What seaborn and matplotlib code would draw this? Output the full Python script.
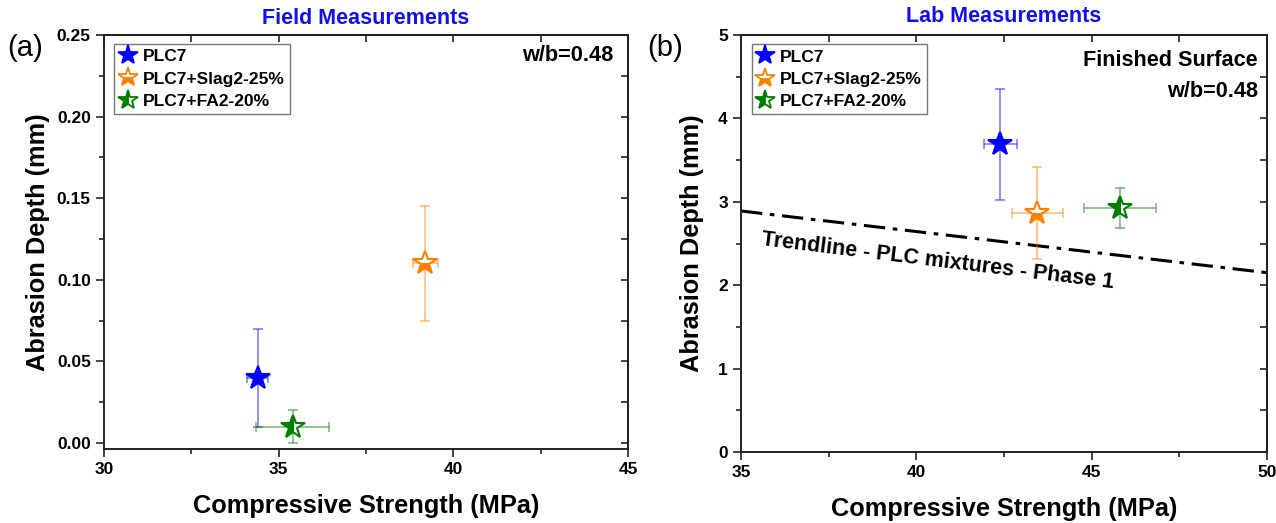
import numpy as np
import pandas as pd
import matplotlib
matplotlib.use("Agg")
import matplotlib.pyplot as plt
import seaborn as sns
from matplotlib.ticker import MultipleLocator, FormatStrFormatter
from matplotlib.lines import Line2D

# ---------------- data ----------------
series = ["PLC7", "PLC7+Slag2-25%", "PLC7+FA2-20%"]
colors = ["#0000FF", "#FF7F00", "#008000"]
fills = ["full", "bottom", "left"]

# Field measurements (panel a)
field_x = [34.4, 39.2, 35.4]
field_xerr = [0.3, 0.35, 1.05]
field_y = [0.040, 0.110, 0.010]
field_yerr = [0.030, 0.035, 0.010]

# Lab measurements (panel b)
lab_x = [42.4, 43.45, 45.8]
lab_xerr = [0.47, 0.73, 1.03]
lab_y = [3.69, 2.87, 2.93]
lab_yerr = [0.665, 0.55, 0.24]

trend_x = [35, 50]
trend_y = [2.89, 2.15]
trend_label = "Trendline - PLC mixtures - Phase 1"

# ---------------- style ----------------
sns.set_theme(style="ticks")
plt.rcParams["font.family"] = ["Liberation Sans", "DejaVu Sans"]
plt.rcParams["font.weight"] = "bold"
for k in ["text.color", "axes.labelcolor", "xtick.color", "ytick.color",
          "axes.edgecolor"]:
    plt.rcParams[k] = "black"

W, H = 1276, 523
fig = plt.figure(figsize=(W / 100, H / 100), dpi=100)

def px_axes(l, t, r, b):
    return fig.add_axes([l / W, 1 - b / H, (r - l) / W, (b - t) / H])

ax1 = px_axes(104, 35, 628, 449)
ax2 = px_axes(741, 35, 1267, 452)


def style_axes(ax, xmaj, xmin, ymaj, ymin, yfmt, ypad):
    for s in ax.spines.values():
        s.set_linewidth(1.4)
        s.set_color("#222222")
        s.set_visible(True)
    ax.xaxis.set_major_locator(MultipleLocator(xmaj))
    ax.xaxis.set_minor_locator(MultipleLocator(xmin))
    ax.yaxis.set_major_locator(MultipleLocator(ymaj))
    ax.yaxis.set_minor_locator(MultipleLocator(ymin))
    ax.yaxis.set_major_formatter(FormatStrFormatter(yfmt))
    ax.xaxis.set_major_formatter(FormatStrFormatter("%d"))
    ax.tick_params(which="both", direction="out", width=1.2, color="#222222",
                   labelsize=12.5, top=False, right=False, labelcolor="black")
    ax.tick_params(which="major", length=6)
    ax.tick_params(which="minor", length=3.5)
    for lab in ax.get_xticklabels() + ax.get_yticklabels():
        lab.set_fontweight("bold")
    # inward ticks on top/right
    sx = ax.secondary_xaxis("top")
    sx.xaxis.set_major_locator(MultipleLocator(xmaj))
    sx.xaxis.set_minor_locator(MultipleLocator(xmin))
    sx.tick_params(which="both", direction="in", labeltop=False, width=1.2,
                   color="#222222")
    sx.tick_params(which="major", length=5)
    sx.tick_params(which="minor", length=5)
    sy = ax.secondary_yaxis("right")
    sy.yaxis.set_major_locator(MultipleLocator(ymaj))
    sy.yaxis.set_minor_locator(MultipleLocator(ymin))
    sy.tick_params(which="both", direction="in", labelright=False, width=1.2,
                   color="#222222")
    sy.tick_params(which="major", length=5)
    sy.tick_params(which="minor", length=5)
    ax.set_xlabel("Compressive Strength (MPa)", fontsize=18.3,
                  fontweight="bold", labelpad=12)
    ax.set_ylabel("Abrasion Depth (mm)", fontsize=18.3, fontweight="bold",
                  labelpad=ypad)


def draw_points(ax, xs, xe, ys, ye):
    for i in range(len(series)):
        ax.errorbar(xs[i], ys[i], xerr=xe[i], yerr=ye[i], fmt="none",
                    ecolor=colors[i], alpha=0.5, elinewidth=1.2,
                    capsize=3.5, capthick=1.2, zorder=2)
        ax.plot(xs[i], ys[i], linestyle="none", marker="*", markersize=17.5,
                color=colors[i], markeredgecolor=colors[i],
                markerfacecolor=colors[i], fillstyle=fills[i],
                markerfacecoloralt="white", markeredgewidth=1.5, zorder=3)


def add_legend(ax):
    handles = [Line2D([], [], linestyle="none", marker="*", markersize=15,
                      color=colors[i], markeredgecolor=colors[i],
                      markerfacecolor=colors[i], fillstyle=fills[i],
                      markerfacecoloralt="white", markeredgewidth=1.3)
               for i in range(len(series))]
    leg = ax.legend(handles, series, loc="upper left",
                    bbox_to_anchor=(0.02, 0.978), frameon=True, fancybox=False,
                    framealpha=1, edgecolor="#777777", handlelength=1.0,
                    handletextpad=0.35, borderpad=0.3, labelspacing=0.4,
                    borderaxespad=0.0,
                    prop={"size": 12.5, "weight": "bold"})
    leg.get_frame().set_linewidth(1.0)


# ---------------- panel a ----------------
draw_points(ax1, field_x, field_xerr, field_y, field_yerr)
ax1.set_xlim(30, 45)
ax1.set_ylim(-0.0037, 0.25)
style_axes(ax1, 5, 2.5, 0.05, 0.025, "%.2f", 5)
add_legend(ax1)
ax1.text(0.972, 0.95, "w/b=0.48", transform=ax1.transAxes, ha="right",
         va="center", fontsize=15.7, fontweight="bold")

# ---------------- panel b ----------------
trend_df = pd.DataFrame({"x": trend_x, "y": trend_y})
sns.lineplot(data=trend_df, x="x", y="y", ax=ax2, color="black", linewidth=2.2,
             linestyle=(0, (7, 2.5, 1.5, 2.5)), zorder=1)
draw_points(ax2, lab_x, lab_xerr, lab_y, lab_yerr)
ax2.set_xlim(35, 50)
ax2.set_ylim(0, 5)
style_axes(ax2, 5, 2.5, 1, 0.5, "%d", 10)
add_legend(ax2)
ax2.text(0.983, 0.94, "Finished Surface", transform=ax2.transAxes, ha="right",
         va="center", fontsize=15.6, fontweight="bold")
ax2.text(0.983, 0.865, "w/b=0.48", transform=ax2.transAxes, ha="right",
         va="center", fontsize=15.6, fontweight="bold")
ax2.text(40.6, 2.29, trend_label, rotation=-7.0, ha="center", va="center",
         fontsize=15.5, fontweight="bold", rotation_mode="anchor")

# ---------------- titles / panel labels ----------------
fig.text(366 / W, 1 - 18 / H, "Field Measurements", ha="center", va="center",
         color="#1010F0", fontsize=15.5, fontweight="bold")
fig.text(1004 / W, 1 - 16 / H, "Lab Measurements", ha="center", va="center",
         color="#1010F0", fontsize=15.5, fontweight="bold")
fig.text(25 / W, 1 - 48 / H, "(a)", ha="center", va="center", fontsize=21,
         fontweight="normal")
fig.text(665 / W, 1 - 48 / H, "(b)", ha="center", va="center", fontsize=21,
         fontweight="normal")

fig.savefig("out.png", dpi=100)
